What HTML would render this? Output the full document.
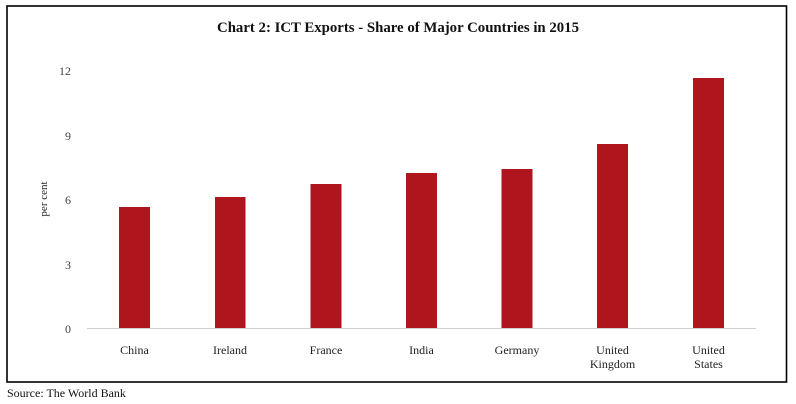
<!DOCTYPE html>
<html><head><meta charset="utf-8"><style>
html,body{margin:0;padding:0;background:#fff;}
svg{display:block;}
</style></head><body>
<svg width="796" height="404" viewBox="0 0 796 404" xmlns="http://www.w3.org/2000/svg" font-family="'Liberation Serif', serif">
<rect x="0" y="0" width="796" height="404" fill="#fff"/>
<rect x="7" y="6" width="779.5" height="376" fill="none" stroke="#000" stroke-width="1.6"/>
<text x="398" y="32" text-anchor="middle" font-size="15" font-weight="bold" fill="#111" textLength="362" lengthAdjust="spacingAndGlyphs">Chart 2: ICT Exports - Share of Major Countries in 2015</text>
<g font-size="12" fill="#444" text-anchor="end">
<text x="71" y="75">12</text>
<text x="71" y="140">9</text>
<text x="71" y="204">6</text>
<text x="71" y="269">3</text>
<text x="71" y="333">0</text>
</g>
<text transform="translate(47,199) rotate(-90)" text-anchor="middle" font-size="11" fill="#222">per cent</text>
<line x1="87" y1="328.5" x2="756" y2="328.5" stroke="#d0d0d0" stroke-width="1"/>
<g fill="#AE151C">
<rect x="119" y="207" width="31" height="121"/>
<rect x="215" y="197" width="30.5" height="131"/>
<rect x="310.5" y="184" width="31" height="144"/>
<rect x="406" y="173" width="31" height="155"/>
<rect x="501.5" y="169" width="31" height="159"/>
<rect x="597" y="144" width="31" height="184"/>
<rect x="693" y="78" width="31" height="250"/>
</g>
<g font-size="12" fill="#222" text-anchor="middle">
<text x="134.5" y="354">China</text>
<text x="230" y="354">Ireland</text>
<text x="326" y="354">France</text>
<text x="421.5" y="354">India</text>
<text x="517" y="354">Germany</text>
<text x="612.5" y="354">United</text>
<text x="612.5" y="368">Kingdom</text>
<text x="708.5" y="354">United</text>
<text x="708.5" y="368">States</text>
</g>
<text x="7" y="397" font-size="12" fill="#111">Source: The World Bank</text>
</svg>
</body></html>
